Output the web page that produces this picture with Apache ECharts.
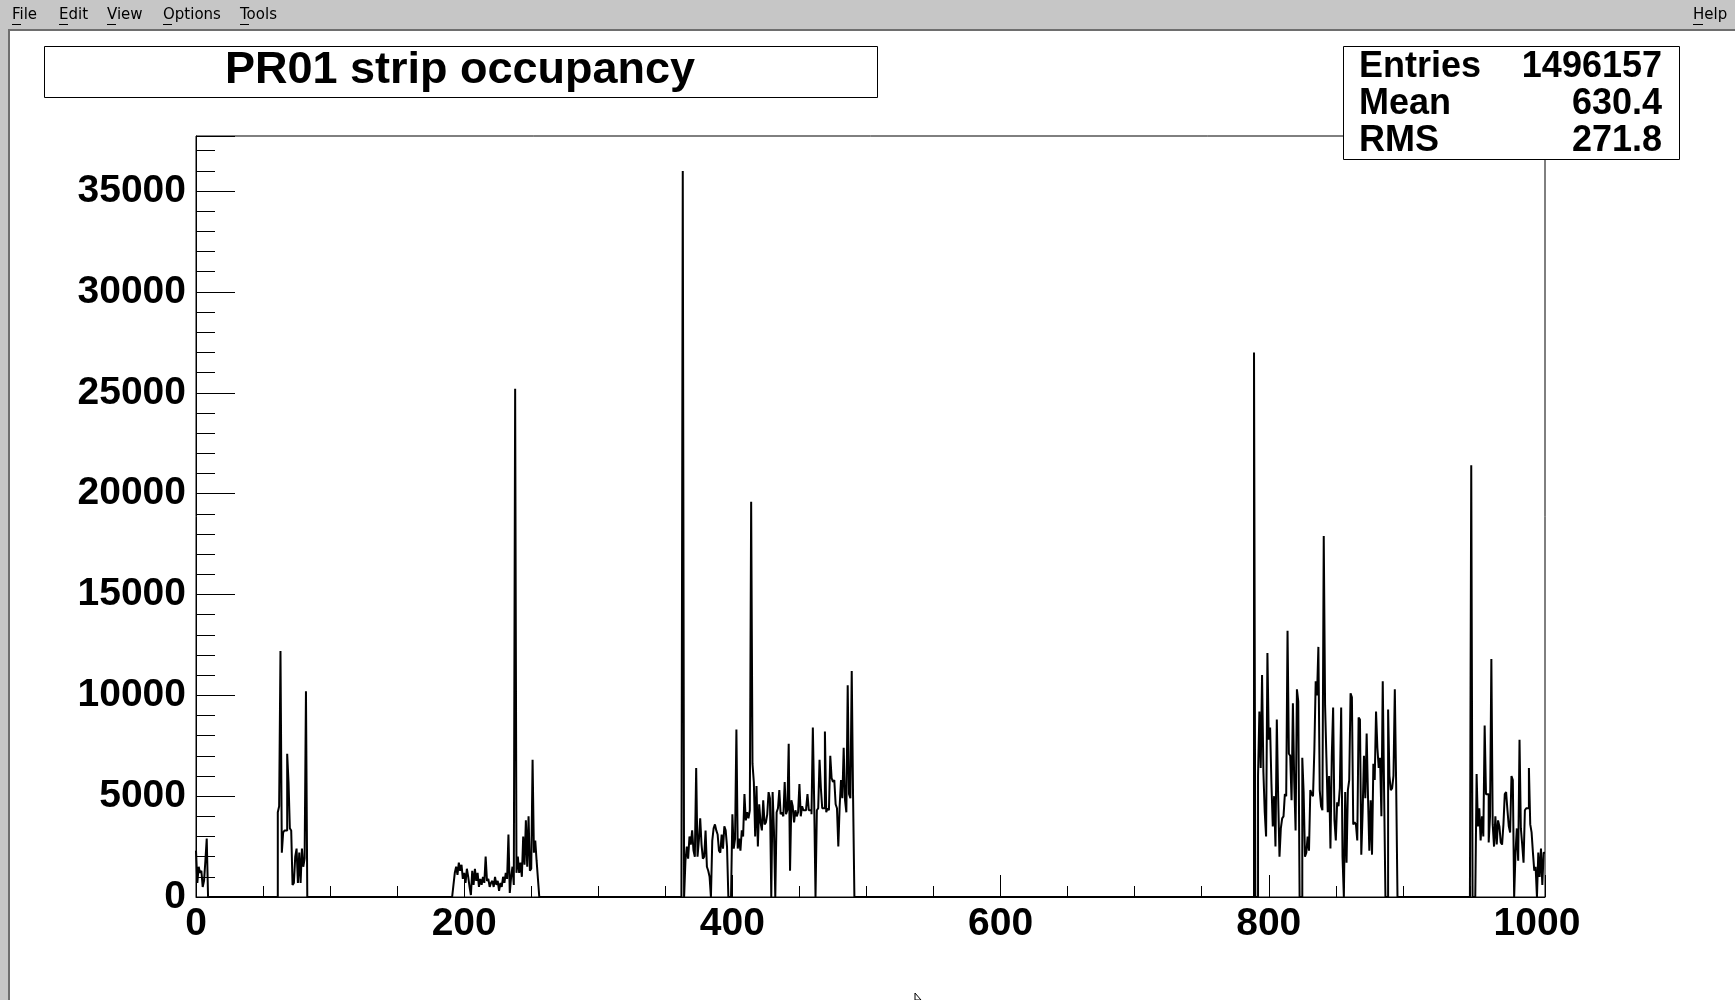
<!DOCTYPE html>
<html>
<head>
<meta charset="utf-8">
<title>PR01 strip occupancy</title>
<script src="https://cdn.jsdelivr.net/npm/echarts@6/dist/echarts.min.js"></script>
<style>
  html, body { margin: 0; padding: 0; background: #fff; }
  #chart { width: 1735px; height: 1000px; }
</style>
</head>
<body>
<div id="chart"></div>
<script>
// strip occupancy, one bin per strip, only a few groups of strips have hits
var nStrips = 1006;
var yMax = 37730;
var xLabels = [0, 200, 400, 600, 800, 1000];
var yLabels = [0, 5000, 10000, 15000, 20000, 25000, 30000, 35000];

var groupStart = [0, 61, 192, 363, 789, 951];
var groupA = [2300, 700, 1500, 1200, 1300, 500, 800, 1800, 2900];
var groupB = [4200, 4500, 12200, 2200, 3200, 3300, 3300, 7100, 5700, 3400, 3300,
  600, 700, 2000, 2400, 700, 2200, 700, 2400, 1500, 1900, 10200];
var groupC = [600, 1200, 1500, 1100, 1700, 1300, 1600, 900, 1200, 700,
  1400, 1000, 500, 100, 1300, 600, 1400, 800, 1200, 500,
  900, 600, 1000, 700, 2000, 800, 900, 500, 700, 800,
  500, 1000, 600, 800, 300, 700, 500, 1000, 700, 1200,
  900, 3100, 200, 1000, 1500, 600, 25200, 1200, 2000, 1200,
  1700, 1000, 3000, 1600, 3800, 1500, 4000, 1300, 1400, 6800,
  2200, 2800, 1800, 900];
var groupD = [36000, 0, 1800, 2500, 1900, 3000, 2600, 3300, 2300, 2000,
  6400, 2000, 2800, 3900, 2600, 1900, 2000, 3300, 1500, 1300,
  1000, 0, 2800, 3400, 3600, 3300, 3100, 2300, 2200, 3100,
  2400, 3500, 3300, 2500, 0, 0, 0, 4100, 2400, 2900,
  8300, 2400, 2900, 2300, 3300, 3000, 5100, 3800, 4200, 3900,
  4300, 19600, 6600, 5700, 3000, 5500, 2500, 4600, 3700, 3300,
  4800, 3600, 3700, 4100, 5200, 4900, 0, 5200, 3300, 0,
  4200, 4400, 5300, 4100, 4200, 4000, 5700, 4100, 4300, 7600,
  1300, 4800, 4500, 3700, 4300, 4000, 4200, 5600, 4000, 4500,
  4300, 4300, 4400, 5100, 4300, 4300, 4100, 8400, 4700, 0,
  4300, 4400, 6800, 5400, 4400, 4400, 8200, 4200, 4400, 4300,
  7000, 5900, 5700, 5800, 4600, 4400, 2500, 4500, 5800, 4900,
  7400, 4800, 4200, 10500, 5100, 4900, 11200, 5000];
var groupE = [27000, 0, 0, 6000, 9200, 6400, 11000, 6200, 4200, 3000,
  12100, 7800, 8400, 5600, 3500, 5000, 2500, 8800, 5000, 2000,
  3400, 3900, 4000, 5100, 5000, 13200, 7100, 7000, 4800, 9600,
  5700, 3300, 10300, 9700, 0, 0, 6900, 5200, 2000, 2200,
  3000, 2300, 5300, 5100, 5000, 7300, 10700, 10000, 12400, 5300,
  4500, 4300, 17900, 9500, 6900, 4200, 6000, 2400, 7000, 9400,
  3800, 2800, 4700, 4500, 5400, 9400, 2000, 0, 5200, 1700,
  5300, 5800, 10100, 9900, 3600, 3700, 3600, 2800, 8900, 8800,
  2100, 4200, 7000, 4900, 8100, 5000, 2300, 4800, 2100, 6600,
  5800, 9200, 7400, 6400, 6900, 4000, 10700, 5300, 0, 0,
  9300, 6000, 5300, 5400, 6000, 10300, 5600];
var groupF = [21400, 0, 0, 0, 6100, 3500, 4400, 2800, 4000, 3000,
  8500, 5100, 5100, 2700, 4000, 11800, 3600, 2500, 4000, 2600,
  3800, 3500, 2700, 2600, 3600, 5100, 5200, 4300, 3500, 3200,
  6000, 5800, 0, 2200, 3400, 1800, 7800, 3400, 2600, 1700,
  4300, 4400, 4400, 6400, 3600, 3200, 2200, 1300, 1500, 0,
  2200, 1000, 2400, 600, 2200];

var statsNames = ['Entries', 'Mean', 'RMS'];
var statsValues = ['1496157', '630.4', '271.8'];
var menuItems = ['File', 'Edit', 'View', 'Options', 'Tools'];

var counts = new Array(nStrips).fill(0);
[groupA, groupB, groupC, groupD, groupE, groupF].forEach(function (g, k) {
  for (var i = 0; i < g.length; i++) counts[groupStart[k] + i] = g[i];
});
var histData = counts.map(function (v, i) { return [i, v]; });
histData.push([nStrips, counts[nStrips - 1]]);

var FONT = '"Liberation Sans", Arial, Helvetica, sans-serif';
var BLACK = '#000';

var chart = echarts.init(document.getElementById('chart'), null, { renderer: 'canvas' });

// window decoration, title box and stats box
var menuX = [12, 59, 107, 163, 240];
var graphics = [
  { type: 'rect', left: 0, top: 0, shape: { width: 1735, height: 29 }, style: { fill: '#c6c6c6' }, z: 1 },
  { type: 'rect', left: 0, top: 29, shape: { width: 1735, height: 2 }, style: { fill: '#6e6e6e' }, z: 1 },
  { type: 'rect', left: 0, top: 29, shape: { width: 8, height: 971 }, style: { fill: '#c6c6c6' }, z: 1 },
  { type: 'rect', left: 8, top: 29, shape: { width: 2, height: 971 }, style: { fill: '#6e6e6e' }, z: 1 }
];
menuItems.forEach(function (m, i) {
  graphics.push({ type: 'text', left: menuX[i], top: 8, z: 2,
    style: { text: m, font: '15px "DejaVu Sans", sans-serif', fill: BLACK } });
  graphics.push({ type: 'rect', left: menuX[i], top: 24, shape: { width: 9, height: 1 }, style: { fill: BLACK }, z: 2 });
});
graphics.push({ type: 'text', left: 1693, top: 8, z: 2,
  style: { text: 'Help', font: '15px "DejaVu Sans", sans-serif', fill: BLACK } });
graphics.push({ type: 'rect', left: 1693, top: 24, shape: { width: 10, height: 1 }, style: { fill: BLACK }, z: 2 });

// title pave
graphics.push({ type: 'rect', left: 44, top: 46, shape: { width: 833, height: 51 },
  style: { fill: '#fff', stroke: BLACK, lineWidth: 1 }, z: 10 });
graphics.push({ type: 'text', x: 460, y: 71, z: 11,
  style: { text: 'PR01 strip occupancy', font: 'bold 45px ' + FONT, fill: BLACK,
    textAlign: 'center', textVerticalAlign: 'middle' } });

// stats pave
graphics.push({ type: 'rect', left: 1343, top: 46, shape: { width: 336, height: 113 },
  style: { fill: '#fff', stroke: BLACK, lineWidth: 1 }, z: 10 });
var statsY = [67, 104, 141];
statsNames.forEach(function (n, i) {
  graphics.push({ type: 'text', x: 1359, y: statsY[i], z: 11,
    style: { text: n, font: 'bold 36px ' + FONT, fill: BLACK, textAlign: 'left', textVerticalAlign: 'middle' } });
  graphics.push({ type: 'text', x: 1662, y: statsY[i], z: 11,
    style: { text: statsValues[i], font: 'bold 36px ' + FONT, fill: BLACK, textAlign: 'right', textVerticalAlign: 'middle' } });
});

// mouse pointer tip at the bottom edge
graphics.push({ type: 'polygon', z: 12,
  shape: { points: [[915, 993], [915, 1000], [921, 1000]] },
  style: { fill: '#fff', stroke: BLACK, lineWidth: 1 } });

var labelStyle = { color: BLACK, fontFamily: FONT, fontWeight: 'bold', fontSize: 39 };

var option = {
  animation: false,
  backgroundColor: '#fff',
  grid: { left: 196, top: 136, width: 1349, height: 761, show: true, borderColor: BLACK, borderWidth: 1,
    backgroundColor: 'transparent', containLabel: false },
  xAxis: [
    { type: 'value', min: 0, max: nStrips, interval: 200, position: 'bottom',
      axisLine: { show: true, lineStyle: { color: BLACK, width: 1 } },
      axisTick: { show: true, inside: true, length: 22, lineStyle: { color: BLACK, width: 1 } },
      axisLabel: Object.assign({ margin: 8, showMaxLabel: true,
        formatter: function (v) { return xLabels.indexOf(v) >= 0 ? String(v) : ''; } }, labelStyle),
      splitLine: { show: false } },
    { type: 'value', min: 0, max: nStrips, interval: 50, position: 'bottom',
      axisLine: { show: false },
      axisTick: { show: true, inside: true, length: 11, lineStyle: { color: BLACK, width: 1 } },
      axisLabel: { show: false }, splitLine: { show: false } }
  ],
  yAxis: [
    { type: 'value', min: 0, max: yMax, interval: 5000, position: 'left',
      axisLine: { show: true, lineStyle: { color: BLACK, width: 1 } },
      axisTick: { show: true, inside: true, length: 39, lineStyle: { color: BLACK, width: 1 } },
      axisLabel: Object.assign({ margin: 10,
        formatter: function (v) { return yLabels.indexOf(v) >= 0 ? String(v) : ''; } }, labelStyle),
      splitLine: { show: false } },
    { type: 'value', min: 0, max: yMax, interval: 1000, position: 'left',
      axisLine: { show: false },
      axisTick: { show: true, inside: true, length: 19, lineStyle: { color: BLACK, width: 1 } },
      axisLabel: { show: false }, splitLine: { show: false } }
  ],
  series: [{
    type: 'line',
    name: 'PR01',
    step: 'end',
    xAxisIndex: 0,
    yAxisIndex: 0,
    showSymbol: false,
    symbol: 'none',
    sampling: null,
    lineStyle: { color: BLACK, width: 2 },
    data: histData,
    z: 3
  }],
  graphic: graphics
};

chart.setOption(option);
</script>
</body>
</html>
